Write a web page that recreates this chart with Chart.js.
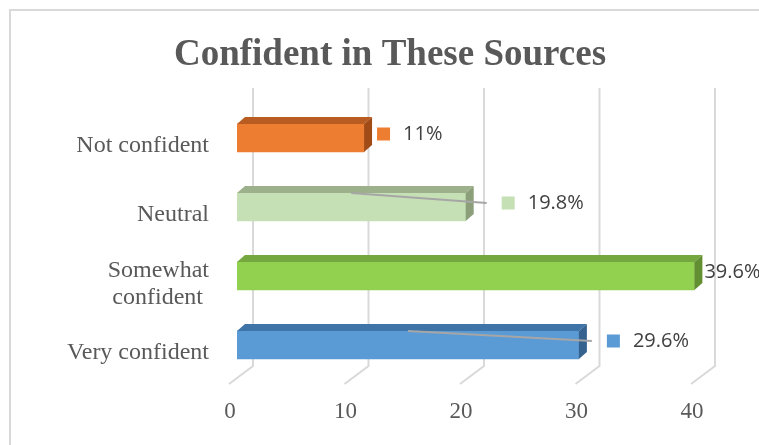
<!DOCTYPE html>
<html>
<head>
<meta charset="utf-8">
<script src="https://cdn.jsdelivr.net/npm/chart.js@4/dist/chart.umd.min.js"></script>
<style>
  html, body { margin: 0; padding: 0; background: #ffffff; }
  #wrap { width: 759px; height: 445px; position: relative; }
</style>
</head>
<body>
<div id="wrap"><canvas id="c" width="759" height="445"></canvas></div>
<script>
const chartTitle = 'Confident in These Sources';
const categories = ['Not confident', 'Neutral', ['Somewhat', 'confident '], 'Very confident'];
const values = [11, 19.8, 39.6, 29.6];
const valueLabels = ['11%', '19.8%', '39.6%', '29.6%'];
const xTicks = [0, 10, 20, 30, 40];

const frontColors = ['#ED7D31', '#C5E0B4', '#92D050', '#5B9BD5'];
const topColors   = ['#B95C22', '#9CB08B', '#74A83E', '#3F74A8'];
const sideColors  = ['#A14C17', '#8B9F7B', '#628F32', '#35628F'];

const DX = 8, DY = 7;

const decor = {
  id: 'decor',
  beforeDraw(chart) {
    const ctx = chart.ctx;
    ctx.save();
    ctx.fillStyle = '#ffffff';
    ctx.fillRect(0, 0, chart.width, chart.height);
    ctx.strokeStyle = '#d9d9d9';
    ctx.lineWidth = 2;
    ctx.strokeRect(10, 10, 800, 500);
    ctx.fillStyle = '#595959';
    ctx.font = 'bold 37px "Liberation Serif"';
    ctx.textAlign = 'center';
    ctx.textBaseline = 'alphabetic';
    ctx.fillText(chartTitle, 390, 65);
    ctx.restore();
  },
  beforeDatasetsDraw(chart) {
    const ctx = chart.ctx, xs = chart.scales.x, a = chart.chartArea;
    ctx.save();
    ctx.strokeStyle = '#d9d9d9';
    ctx.lineWidth = 2;
    xTicks.forEach(v => {
      const px = xs.getPixelForValue(v);
      ctx.beginPath();
      ctx.moveTo(px + 16, a.top - 15.5);
      ctx.lineTo(px + 16, a.bottom - 13.5);
      ctx.lineTo(px - 8, a.bottom + 4.5);
      ctx.stroke();
    });
    ctx.fillStyle = '#595959';
    ctx.font = '23px "Liberation Serif"';
    ctx.textAlign = 'center';
    ctx.textBaseline = 'middle';
    xTicks.forEach(v => {
      const px = xs.getPixelForValue(v);
      ctx.fillText(String(v), px - 7, a.bottom + 32);
    });
    ctx.restore();
  },
  afterDatasetsDraw(chart, args, opts) {
    const ctx = chart.ctx;
    const meta = chart.getDatasetMeta(0);
    ctx.save();
    meta.data.forEach((bar, i) => {
      const left = bar.base, right = bar.x;
      const top = bar.y - bar.height / 2, bottom = bar.y + bar.height / 2;
      ctx.fillStyle = topColors[i];
      ctx.beginPath();
      ctx.moveTo(left, top);
      ctx.lineTo(right, top);
      ctx.lineTo(right + DX, top - DY);
      ctx.lineTo(left + DX, top - DY);
      ctx.closePath();
      ctx.fill();
      ctx.fillStyle = sideColors[i];
      ctx.beginPath();
      ctx.moveTo(right, top);
      ctx.lineTo(right + DX, top - DY);
      ctx.lineTo(right + DX, bottom - DY);
      ctx.lineTo(right, bottom);
      ctx.closePath();
      ctx.fill();
    });
    ctx.font = '20px "Open Sans"';
    ctx.textBaseline = 'middle';
    ctx.textAlign = 'left';
    meta.data.forEach((bar, i) => {
      const top = bar.y - bar.height / 2;
      const cy = bar.y - 4;
      const startX = bar.x + DX + opts.shift[i];
      let tx = startX;
      if (opts.key[i]) {
        ctx.fillStyle = frontColors[i];
        ctx.fillRect(startX, cy - 6.5, 13, 13);
        tx = startX + 26;
        if (opts.leader[i]) {
          ctx.strokeStyle = '#a6a6a6';
          ctx.lineWidth = 2;
          ctx.beginPath();
          ctx.moveTo((bar.base + bar.x) / 2, top);
          ctx.lineTo(startX - 15, cy);
          ctx.stroke();
        }
      }
      ctx.fillStyle = '#404040';
      ctx.fillText(valueLabels[i], tx, cy);
    });
    ctx.restore();
  }
};

new Chart(document.getElementById('c'), {
  type: 'bar',
  data: {
    labels: categories,
    datasets: [{
      data: values,
      backgroundColor: frontColors,
      borderWidth: 0,
      barThickness: 28
    }]
  },
  options: {
    indexAxis: 'y',
    responsive: false,
    animation: false,
    layout: { padding: { left: 0, right: 60, top: 103.5, bottom: 65.5 } },
    plugins: {
      legend: { display: false },
      tooltip: { enabled: false },
      title: { display: false },
      decor: {
        shift: [5, 28, 2, 20],
        key: [true, true, false, true],
        leader: [false, true, false, true]
      }
    },
    scales: {
      x: {
        display: false,
        min: 0,
        max: 40,
        ticks: { stepSize: 10 }
      },
      y: {
        grid: { display: false, drawTicks: false },
        border: { display: false },
        afterFit(scale) { scale.width = 237; },
        ticks: {
          color: '#595959',
          padding: 28,
          labelOffset: 8,
          font: { family: '"Liberation Serif"', size: 24, lineHeight: 1.125 }
        }
      }
    }
  },
  plugins: [decor]
});
</script>
</body>
</html>
